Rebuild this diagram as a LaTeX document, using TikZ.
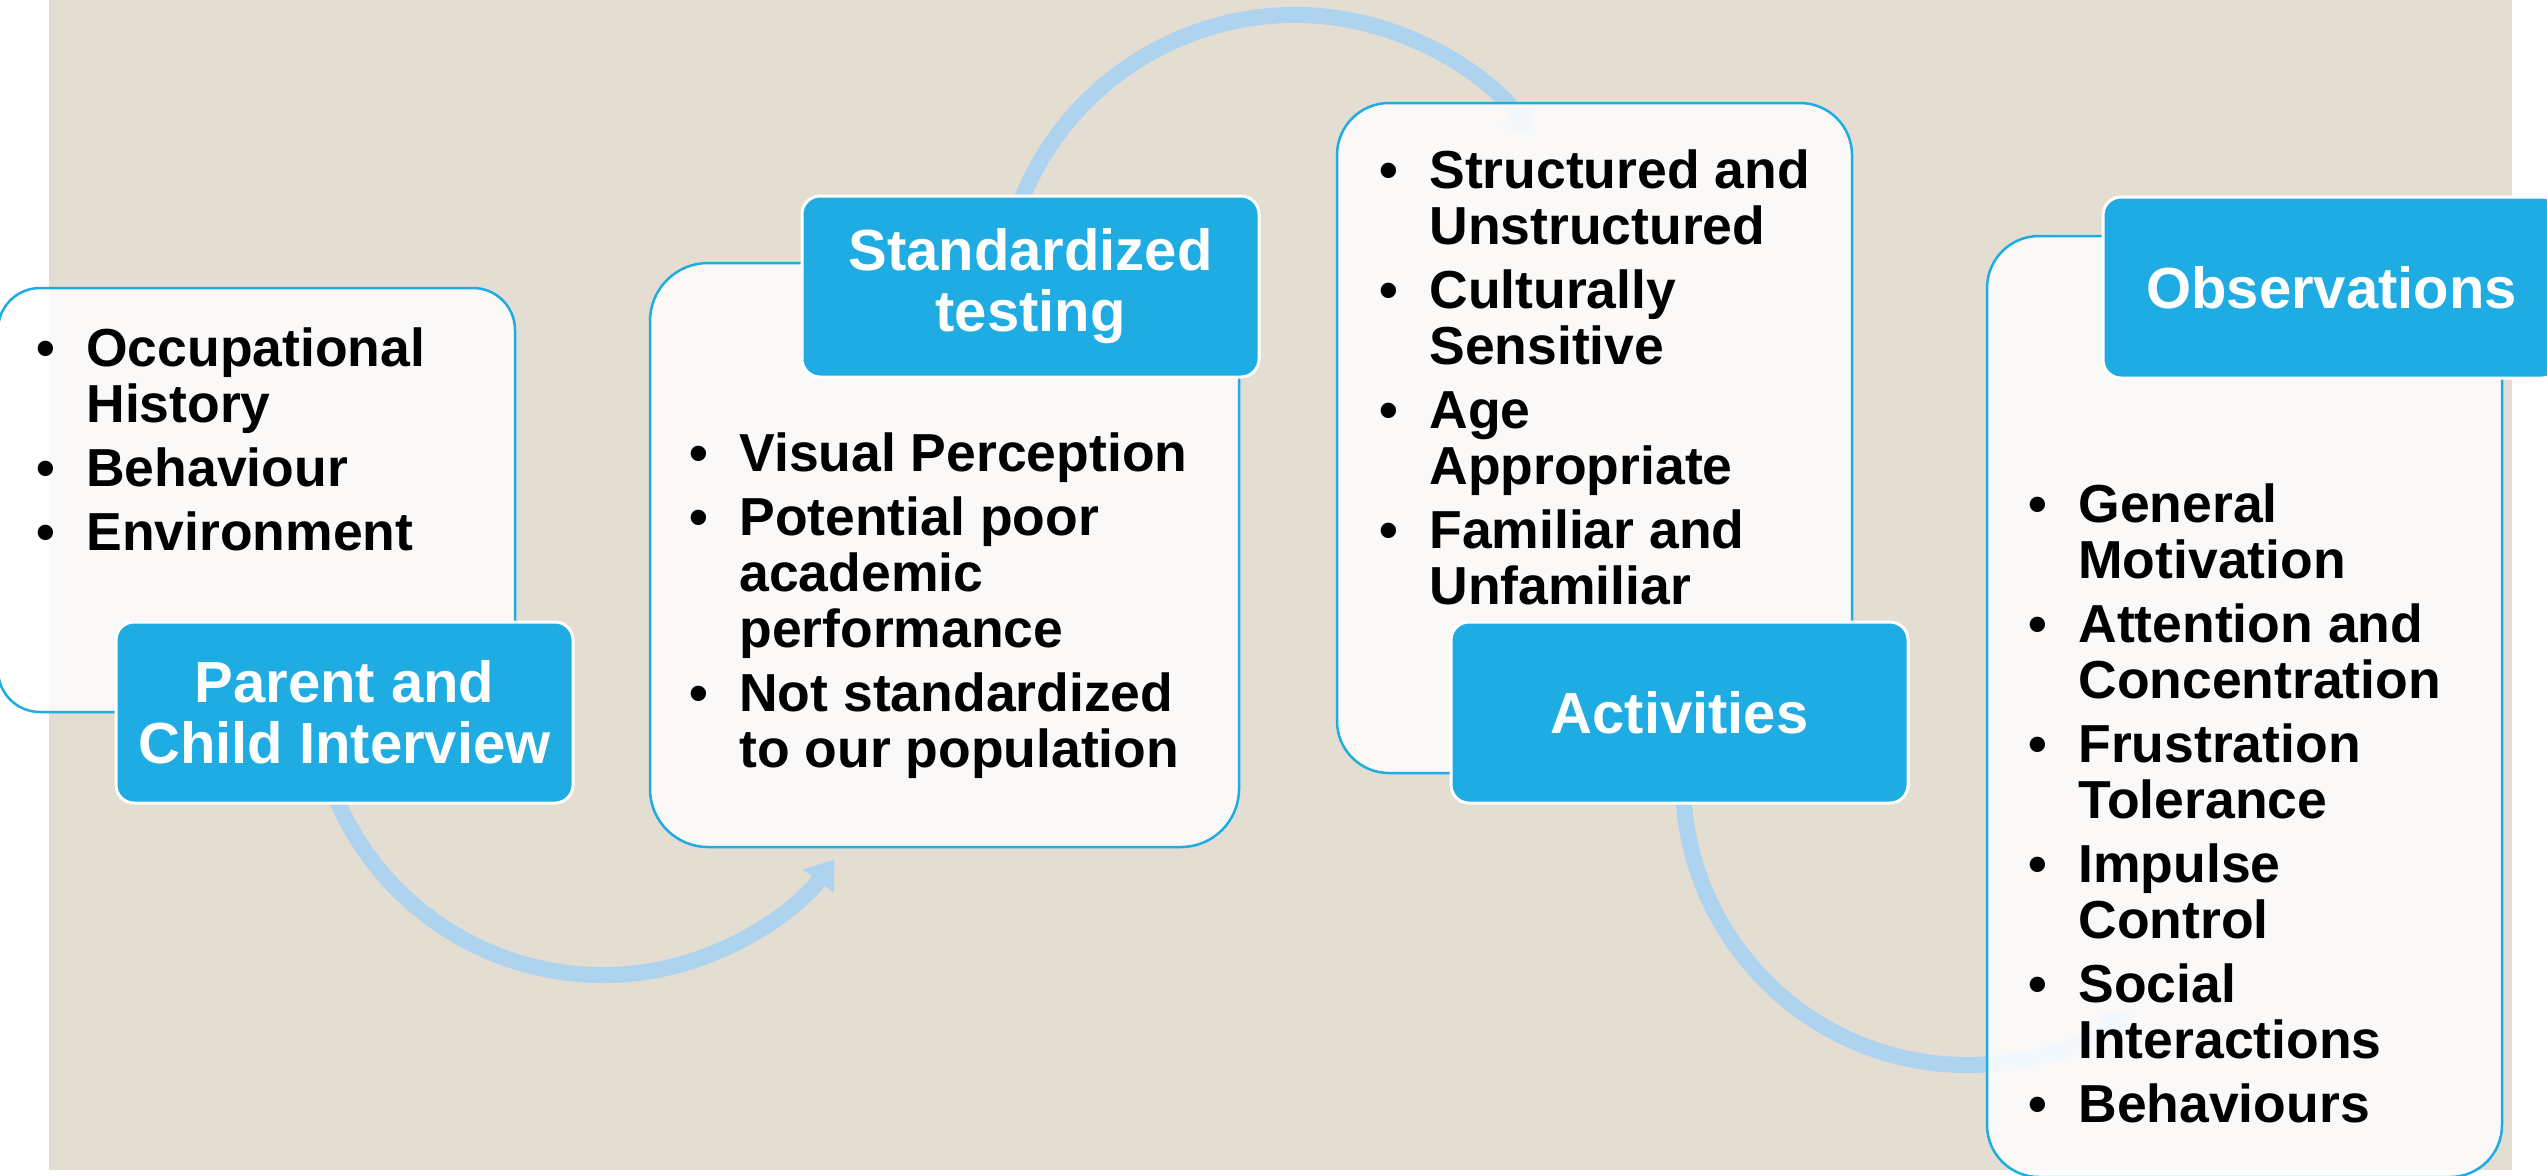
\documentclass[tikz,border=0pt]{standalone}
\usepackage{fontspec}
\setmainfont{Liberation Sans}
\usetikzlibrary{arrows.meta}

\definecolor{paper}{HTML}{E3DDD2}
\definecolor{sky}{HTML}{1FACE3}
\definecolor{flowblue}{HTML}{AED3EE}

% bullet hung in the left margin of an item
\newcommand{\itemdot}{\llap{\textbullet\hspace{15.8pt}}}

\tikzset{
  panel/.style={draw=sky, line width=1.25pt, fill=white, fill opacity=0.85,
    rounded corners=#1, inner sep=0pt, outer sep=0pt},
  tag/.style={draw=white, line width=1.5pt, fill=sky, rounded corners=9pt,
    minimum width=228.5pt, minimum height=90.5pt, inner sep=0pt, outer sep=0pt,
    text=white, align=center, font=\fontsize{29pt}{30.5pt}\selectfont\bfseries},
  % anchored at the baseline of the last line
  body/.style={anchor=base west, inner sep=0pt, align=left,
    font=\fontsize{26.75pt}{28pt}\selectfont\bfseries},
  flow/.style={draw=flowblue, line width=8pt,
    -{Triangle[width=18.5pt,length=13.5pt]}},
}

\begin{document}
\begin{tikzpicture}[x=0.5pt, y=0.5pt]
\useasboundingbox (0,0) rectangle (2547,-1175);
\clip (0,0) rectangle (2547,-1175);

% backdrop
\fill[paper] (49,0) rectangle (2512,-1170);

% curved flow arrows (centres of the arcs)
\coordinate (o1) at (603,-685);
\coordinate (o2) at (1295,-310);
\coordinate (o3) at (1967,-781);
\draw[flow] (o1) ++(198:145pt) arc[start angle=198, end angle=323, radius=145pt];
\draw[flow] (o2) ++(165:147.5pt) arc[start angle=165, end angle=36, radius=147.5pt];
\draw[flow] (o3) ++(177:142pt) arc[start angle=177, end angle=305, radius=142pt];

% content panels
\node[panel=21pt, minimum width=258.5pt, minimum height=212pt] (p1) at (256.5,-500) {};
\node[panel=29pt, minimum width=294.5pt, minimum height=292pt] (p2) at (944.5,-555) {};
\node[panel=26pt, minimum width=257.5pt, minimum height=335pt] (p3) at (1594.5,-438) {};
\node[panel=26pt, minimum width=257.5pt, minimum height=470.5pt] (p4) at (2244.5,-706.5) {};

% stage titles
\node[tag] (l1) at (344.5,-712.5) {Parent and\\Child Interview};
\node[tag] (l2) at (1030.5,-286.5) {Standardized\\testing};
\node[tag] (l3) at (1679.5,-712.5) {Activities};
\node[tag] (l4) at (2331.5,-287.5) {Observations};

% panel contents
\node[body] (t1) at (86,-550)
  {\itemdot Occupational\\History\\[4pt]\itemdot Behaviour\\[4pt]\itemdot Environment};
\node[body] (t2) at (739,-767)
  {\itemdot Visual Perception\\[4pt]\itemdot Potential poor\\academic\\performance\\[4pt]%
   \itemdot Not standardized\\to our population};
\node[body] (t3) at (1429,-604)
  {\itemdot Structured and\\Unstructured\\[4pt]\itemdot Culturally\\Sensitive\\[4pt]%
   \itemdot Age\\Appropriate\\[4pt]\itemdot Familiar and\\Unfamiliar};
\node[body] (t4) at (2078,-1122)
  {\itemdot General\\Motivation\\[4pt]\itemdot Attention and\\Concentration\\[4pt]%
   \itemdot Frustration\\Tolerance\\[4pt]\itemdot Impulse\\Control\\[4pt]%
   \itemdot Social\\Interactions\\[4pt]\itemdot Behaviours};
\end{tikzpicture}
\end{document}
